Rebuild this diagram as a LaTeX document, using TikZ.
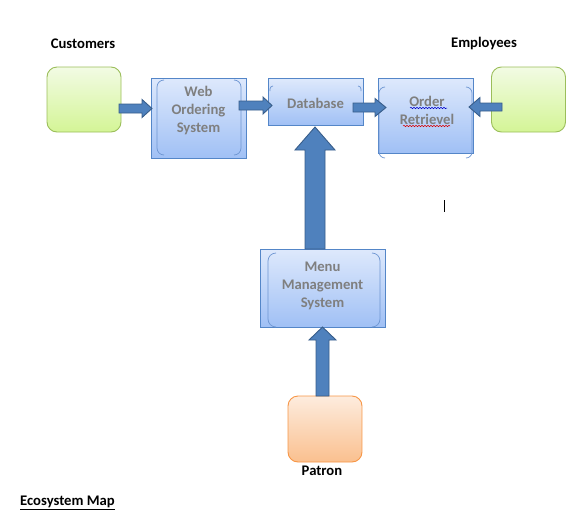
\documentclass[tikz,border=0pt]{standalone}
\usepackage{fontspec}
\setmainfont{Carlito}
\usetikzlibrary{calc,decorations.pathmorphing}
\definecolor{sysTop}{RGB}{222,233,252}
\definecolor{sysBot}{RGB}{160,192,245}
\definecolor{sysLine}{RGB}{84,134,200}
\definecolor{brk}{RGB}{110,150,210}
\definecolor{grnTop}{RGB}{242,251,228}
\definecolor{grnBot}{RGB}{212,245,150}
\definecolor{grnLine}{RGB}{155,190,90}
\definecolor{orgTop}{RGB}{253,236,222}
\definecolor{orgBot}{RGB}{250,192,143}
\definecolor{orgLine}{RGB}{247,150,70}
\definecolor{arrFill}{RGB}{79,129,189}
\definecolor{arrLine}{RGB}{56,93,138}
\definecolor{txtGray}{RGB}{127,127,127}
\tikzset{
  sysbox/.style={draw=sysLine, line width=0.9pt, top color=sysTop, bottom color=sysBot, inner sep=0pt},
  grnbox/.style={draw=grnLine, line width=0.9pt, top color=grnTop, bottom color=grnBot, rounded corners=10pt, inner sep=0pt, minimum width=74pt, minimum height=65pt},
  orgbox/.style={draw=orgLine, line width=0.9pt, top color=orgTop, bottom color=orgBot, rounded corners=10pt, inner sep=0pt, minimum width=74pt, minimum height=66pt},
  boxtext/.style={font=\fontsize{14.67pt}{18pt}\selectfont\bfseries, text=txtGray, align=center, inner sep=0pt},
  title/.style={font=\fontsize{14.67pt}{18pt}\selectfont\bfseries, inner sep=0pt},
  brkline/.style={draw=brk, line width=0.7pt},
  blockarr/.style={fill=arrFill, draw=arrLine, line width=0.9pt, line join=miter},
}
% horizontal block arrow: #1 start, #2 tip, #3 shaft half, #4 head half, #5 signed head length
\newcommand\blockH[5]{%
  \filldraw[blockarr] let \p1=(#1), \p2=(#2) in
    (\x1,\y2+#3) -- (\x2-#5,\y2+#3) -- (\x2-#5,\y2+#4) -- (\x2,\y2)
    -- (\x2-#5,\y2-#4) -- (\x2-#5,\y2-#3) -- (\x1,\y2-#3) -- cycle;}
% upward block arrow
\newcommand\blockV[5]{%
  \filldraw[blockarr] let \p1=(#1), \p2=(#2) in
    (\x2-#3,\y1) -- (\x2-#3,\y2-#5) -- (\x2-#4,\y2-#5) -- (\x2,\y2)
    -- (\x2+#4,\y2-#5) -- (\x2+#3,\y2-#5) -- (\x2+#3,\y1) -- cycle;}
% bracket pair
\newcommand\brackets[5]{% x1,y1,x2,y2,r
  \draw[brkline, rounded corners=#5pt] (#1+#5,#2) -- (#1,#2) -- (#1,#4) -- (#1+#5,#4);
  \draw[brkline, rounded corners=#5pt] (#3-#5,#2) -- (#3,#2) -- (#3,#4) -- (#3-#5,#4);}
\begin{document}
\begin{tikzpicture}[x=1pt,y=-1pt]
\useasboundingbox (0,0) rectangle (571,517);

% titles
\node[title] (custT) at (83,44) {Customers};
\node[title] (empT) at (484,44) {Employees};
\node[title] (patT) at (322,471) {Patron};
\node[title, anchor=west] (eco) at (20,503) {\underline{Ecosystem Map}};

% green / orange boxes
\node[grnbox] (cust) at (84,99.5) {};
\node[grnbox] (emp) at (528.5,99.5) {};
\node[orgbox] (pat) at (325,429) {};

% system boxes
\node[sysbox, minimum width=95pt, minimum height=80pt] (web) at (198.5,118) {};
\brackets{157}{80}{241}{155}{7}
\node[boxtext] (webT) at (198.5,111) {Web\\Ordering\\System};

\node[sysbox, minimum width=95pt, minimum height=47pt] (db) at (315.5,102) {};
\draw[brkline, rounded corners=3pt] (273,86) -- (270,86) -- (270,91);
\draw[brkline, rounded corners=3pt] (358,86) -- (361,86) -- (361,91);
\node[boxtext] (dbT) at (315.5,103) {Database};

\node[sysbox, minimum width=95pt, minimum height=75pt] (ord) at (425.5,115.5) {};
\brackets{379}{87}{472}{158}{6}
\node[boxtext] (ordT) at (427,110) {Order\\Retrievel};
\draw[blue!80!black, line width=0.5pt, decorate, decoration={snake, amplitude=0.7pt, segment length=3pt}] (410,108) -- (447,108);
\draw[red!85!black, line width=0.5pt, decorate, decoration={snake, amplitude=0.7pt, segment length=3pt}] (403,126) -- (450,126);

\node[sysbox, minimum width=125pt, minimum height=78pt] (menu) at (322.5,288) {};
\brackets{268}{253}{380}{327}{8}
\node[boxtext] (menuT) at (322.5,286) {Menu\\Management\\System};

% cursor
\coordinate (cur1) at (444,200);
\coordinate (cur2) at (444,212);
\draw[black, line width=0.8pt] (cur1) -- (cur2);

% arrows
\coordinate (a1s) at (119,108.5);
\coordinate (a1t) at (152,108.5);
\blockH{a1s}{a1t}{4.5pt}{9pt}{10pt}
\coordinate (a2s) at (239,105.5);
\coordinate (a2t) at (272,105.5);
\blockH{a2s}{a2t}{4.5pt}{8.5pt}{9pt}
\coordinate (a3s) at (353,107.5);
\coordinate (a3t) at (386,107.5);
\blockH{a3s}{a3t}{4.5pt}{9pt}{11pt}
\coordinate (a4s) at (502,107);
\coordinate (a4t) at (469,107);
\blockH{a4s}{a4t}{4pt}{9.5pt}{-11pt}
\coordinate (a5s) at (315,249);
\coordinate (a5t) at (315,127);
\blockV{a5s}{a5t}{10pt}{20pt}{23pt}
\coordinate (a6s) at (322.5,396);
\coordinate (a6t) at (322.5,327);
\blockV{a6s}{a6t}{6.5pt}{13.5pt}{13pt}
\end{tikzpicture}
\end{document}
